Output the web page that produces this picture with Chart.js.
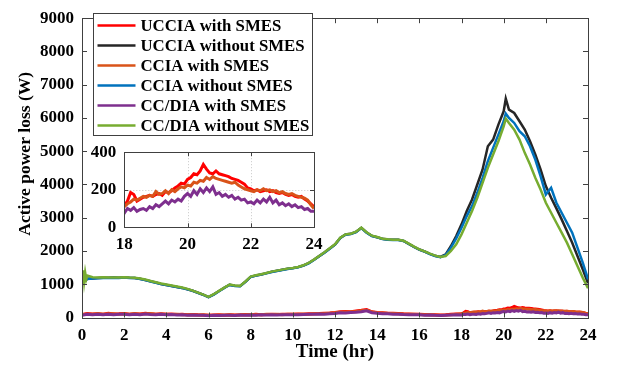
<!DOCTYPE html>
<html><head><meta charset="utf-8">
<script src="https://cdn.jsdelivr.net/npm/chart.js@4.4.0/dist/chart.umd.min.js"></script>
<style>
html,body{margin:0;padding:0;background:#fff;}
#wrap{position:relative;width:617px;height:365px;overflow:hidden;}
#main{position:absolute;left:0;top:0;}
#inset{position:absolute;left:88px;top:134px;}
</style></head><body>
<div id="wrap">
<canvas id="main" width="617" height="365"></canvas>
<canvas id="inset" width="244" height="122"></canvas>
</div>
<script>
// ---- data ----
const seriesLabels = ['UCCIA with SMES','UCCIA without SMES','CCIA with SMES','CCIA without SMES','CC/DIA with SMES','CC/DIA without SMES'];
const seriesColors = ['#FF0000','#262626','#D95319','#0072BD','#7E2F8E','#77AC30'];
const xTitle = 'Time (hr)';
const yTitle = 'Active power loss (W)';

const hoursBig = [0,0.05,0.1,0.15,0.2,0.25,0.5,0.75,1,1.25,1.5,1.75,2,2.25,2.5,2.75,3,3.25,3.5,3.75,4,4.25,4.5,4.75,5,5.25,5.5,5.75,6,6.25,6.5,6.75,7,7.25,7.5,7.75,8,8.25,8.5,8.75,9,9.25,9.5,9.75,10,10.25,10.5,10.75,11,11.25,11.5,11.75,12,12.25,12.5,12.75,13,13.25,13.5,13.75,14,14.25,14.5,14.75,15,15.25,15.5,15.75,16,16.25,16.5,16.75,17,17.25,17.5,17.75,18,18.25,18.5,18.75,19,19.25,19.5,19.75,20,20.1,20.25,20.5,20.75,21,21.25,21.5,21.75,22,22.25,22.5,22.75,23,23.25,23.5,23.75,24];

const ucciaWithout = [1050,1150,1110,1180,1130,1165,1175,1185,1195,1195,1200,1195,1205,1195,1190,1165,1130,1090,1050,1010,980,950,920,890,850,805,745,685,615,695,795,895,985,955,945,1075,1225,1265,1295,1335,1375,1405,1435,1465,1485,1515,1565,1635,1735,1845,1955,2075,2195,2395,2495,2515,2575,2695,2555,2455,2415,2365,2345,2335,2335,2305,2215,2125,2045,1985,1915,1855,1820,1900,2150,2450,2800,3200,3550,4000,4450,5150,5350,5800,6200,6580,6250,6150,5900,5650,5300,4900,4450,3950,3600,3280,2950,2600,2250,1850,1450,1030];

const cciaWithout = [1050,1150,1110,1180,1130,1160,1170,1180,1190,1190,1195,1190,1200,1190,1185,1160,1125,1085,1045,1005,975,945,915,885,845,800,740,680,610,690,790,890,980,950,940,1070,1220,1260,1290,1330,1370,1400,1430,1460,1480,1510,1560,1630,1730,1840,1950,2070,2190,2390,2490,2510,2570,2690,2550,2450,2410,2360,2340,2330,2330,2300,2210,2120,2040,1980,1910,1850,1810,1880,2100,2380,2700,3050,3350,3750,4200,4700,5100,5500,5900,6130,6000,5850,5600,5450,5150,4750,4250,3700,3900,3450,3150,2850,2550,2100,1650,1150];

const ccdiaWithout = [1000,1420,1080,1350,1150,1260,1210,1200,1210,1200,1205,1200,1210,1200,1195,1175,1140,1100,1060,1020,990,960,930,900,860,810,750,690,620,700,800,900,990,960,950,1080,1230,1270,1300,1340,1380,1410,1440,1470,1490,1520,1570,1640,1740,1850,1960,2080,2200,2400,2500,2520,2580,2700,2560,2460,2420,2370,2350,2340,2340,2310,2220,2130,2050,1990,1920,1860,1820,1850,2000,2200,2500,2850,3200,3600,4050,4500,4900,5300,5750,5980,5850,5650,5350,4950,4600,4200,3850,3450,3150,2850,2550,2250,1900,1550,1200,880];

const hoursSmall = [0,0.25,0.5,0.75,1,1.25,1.5,1.75,2,2.25,2.5,2.75,3,3.25,3.5,3.75,4,4.25,4.5,4.75,5,5.25,5.5,5.75,6,6.25,6.5,6.75,7,7.25,7.5,7.75,8,8.25,8.5,8.75,9,9.25,9.5,9.75,10,10.25,10.5,10.75,11,11.25,11.5,11.75,12,12.25,12.5,12.75,13,13.25,13.5,13.75,14,14.25,14.5,14.75,15,15.25,15.5,15.75,16,16.25,16.5,16.75,17,17.25,17.5,17.75,
18,18.1,18.2,18.3,18.4,18.5,18.6,18.7,18.8,18.9,19,19.1,19.2,19.3,19.4,19.5,19.6,19.7,19.8,19.9,20,20.1,20.2,20.3,20.4,20.5,20.6,20.7,20.8,20.9,21,21.1,21.2,21.3,21.4,21.5,21.6,21.7,21.8,21.9,22,22.1,22.2,22.3,22.4,22.5,22.6,22.7,22.8,22.9,23,23.1,23.2,23.3,23.4,23.5,23.6,23.7,23.8,23.9,24];

const ucciaWith = [90,120,105,115,100,125,105,110,120,100,115,105,125,110,100,115,95,105,90,100,85,90,80,75,70,75,80,70,85,75,80,90,85,95,85,90,95,90,100,95,100,105,100,110,115,120,130,135,150,170,180,175,195,215,240,170,150,140,130,125,120,110,105,100,95,90,85,80,75,80,95,105,
115,140,185,175,140,150,160,165,170,165,175,180,170,190,185,195,210,220,235,230,255,265,285,280,300,335,310,290,285,300,285,280,275,270,260,255,250,240,230,210,205,195,200,190,195,200,190,195,185,180,185,175,170,175,165,160,165,150,140,125,110];

const cciaWith = [85,105,100,120,95,110,115,100,110,95,120,100,115,120,95,105,100,90,95,85,80,85,75,80,65,70,75,75,80,70,85,80,90,85,80,95,90,95,85,100,95,100,105,100,110,115,120,130,140,160,165,170,180,200,220,165,140,135,125,120,115,105,100,95,90,85,80,75,70,75,85,100,
110,125,135,150,145,155,165,160,170,165,190,175,180,195,180,200,190,205,215,210,225,220,240,235,250,245,265,255,270,260,255,250,245,240,235,240,225,215,205,200,195,190,200,195,205,195,200,190,195,185,190,180,175,180,170,165,160,155,145,120,100];

const ccdiaWith = [70,95,80,100,85,100,80,95,100,80,95,85,105,90,80,95,80,90,75,85,70,75,65,70,55,65,60,70,65,60,75,70,75,70,80,75,80,75,85,80,85,80,90,95,95,105,100,115,120,140,135,150,155,175,200,145,125,115,110,100,100,90,85,80,80,70,75,65,60,70,75,80,
75,100,90,105,85,95,100,90,110,100,120,110,125,140,125,145,135,150,140,165,180,165,195,175,205,185,210,190,215,175,185,165,175,160,170,150,160,145,150,130,135,125,145,130,150,135,160,130,145,120,130,115,125,110,120,105,110,95,100,85,85];

const xTicksMainStep = 2, yTicksMainStep = 1000;

// ---- helpers ----
const pts = (xs, ys) => xs.map((x, i) => ({x: x, y: ys[i]}));
const serif = '"Liberation Serif", "Times New Roman", serif';
const tickFont = {family: serif, weight: 'bold', size: 17};
const plain = v => String(v);

const frame = {
  id: 'frame',
  beforeDatasetsDraw(chart, args, o) {
    const {ctx, chartArea: a, scales: {x, y}} = chart;
    ctx.save();
    ctx.fillStyle = '#fff';
    ctx.fillRect(a.left, a.top, a.right - a.left, a.bottom - a.top);
    if (o.grid) {
      ctx.strokeStyle = '#c8c8c8'; ctx.lineWidth = 1; ctx.setLineDash([1, 2]);
      ctx.beginPath();
      x.ticks.forEach(t => { const p = Math.round(x.getPixelForValue(t.value)) + 0.5; ctx.moveTo(p, a.top); ctx.lineTo(p, a.bottom); });
      y.ticks.forEach(t => { const p = Math.round(y.getPixelForValue(t.value)) + 0.5; ctx.moveTo(a.left, p); ctx.lineTo(a.right, p); });
      ctx.stroke();
    }
    ctx.restore();
  },
  afterDatasetsDraw(chart, args, o) {
    const {ctx, chartArea: a, scales: {x, y}} = chart;
    const L = o.len;
    ctx.save();
    ctx.strokeStyle = '#404040'; ctx.lineWidth = 1; ctx.setLineDash([]);
    ctx.beginPath();
    x.ticks.forEach(t => { const p = Math.round(x.getPixelForValue(t.value)) + 0.5; ctx.moveTo(p, a.bottom); ctx.lineTo(p, a.bottom - L); ctx.moveTo(p, a.top); ctx.lineTo(p, a.top + L); });
    y.ticks.forEach(t => { const p = Math.round(y.getPixelForValue(t.value)) + 0.5; ctx.moveTo(a.left, p); ctx.lineTo(a.left + L, p); ctx.moveTo(a.right, p); ctx.lineTo(a.right - L, p); });
    ctx.stroke();
    const l = Math.round(a.left) + 0.5, t = Math.round(a.top) + 0.5, r = Math.round(a.right) + 0.5, b = Math.round(a.bottom) + 0.5;
    ctx.strokeRect(l, t, r - l, b - t);
    ctx.restore();
  }
};

// y-axis title drawn slightly above the axis centre, as in the reference
const yTitlePlugin = {
  id: 'yTitlePlugin',
  afterDraw(chart, args, o) {
    const {ctx, chartArea: a} = chart;
    ctx.save();
    ctx.font = o.font; ctx.fillStyle = '#000';
    ctx.textAlign = 'center'; ctx.textBaseline = 'middle';
    ctx.translate(o.x, (a.top + a.bottom) / 2 + o.dy);
    ctx.rotate(-Math.PI / 2);
    ctx.fillText(o.text, 0, 0);
    ctx.restore();
  }
};

const legendBox = {
  id: 'legendBox',
  afterDraw(chart, args, o) {
    const {ctx, chartArea: a} = chart;
    const x0 = Math.round(a.left + o.dx) + 0.5, y0 = Math.round(a.top + o.dy) + 0.5;
    ctx.save();
    ctx.font = o.font;
    const ds = chart.data.datasets;
    let w = 0; ds.forEach(d => { w = Math.max(w, ctx.measureText(d.label).width); });
    const W = Math.round(o.padL + o.lineLen + o.gap + w + o.padR);
    const H = Math.round(ds.length * o.rowH + o.padT + o.padB);
    ctx.fillStyle = '#fff'; ctx.fillRect(x0, y0, W, H);
    ctx.strokeStyle = '#404040'; ctx.lineWidth = 1; ctx.strokeRect(x0, y0, W, H);
    ds.forEach((d, i) => {
      const cy = y0 + o.padT + o.rowH * (i + 0.5);
      ctx.strokeStyle = d.borderColor; ctx.lineWidth = 2.5;
      ctx.beginPath(); ctx.moveTo(x0 + o.padL, cy); ctx.lineTo(x0 + o.padL + o.lineLen, cy); ctx.stroke();
      ctx.fillStyle = '#000'; ctx.textBaseline = 'middle'; ctx.textAlign = 'left';
      ctx.fillText(d.label, x0 + o.padL + o.lineLen + o.gap, cy + 1);
    });
    ctx.restore();
  }
};

const bigData = [null, ucciaWithout, null, cciaWithout, null, ccdiaWithout];
const smallData = [ucciaWith, null, cciaWith, null, ccdiaWith, null];

const mainSets = seriesLabels.map((lab, i) => ({
  label: lab,
  data: bigData[i] ? pts(hoursBig, bigData[i]) : pts(hoursSmall, smallData[i]),
  borderColor: seriesColors[i],
  backgroundColor: seriesColors[i],
  borderWidth: bigData[i] ? 2.5 : 3,
  pointRadius: 0, tension: 0, fill: false,
  order: 5 - i
}));

new Chart(document.getElementById('main'), {
  type: 'line',
  data: {datasets: mainSets},
  options: {
    responsive: false, animation: false, devicePixelRatio: 1,
    layout: {padding: {top: 16.5, right: 29, left: 0, bottom: 0}},
    plugins: {
      legend: {display: false}, tooltip: {enabled: false},
      frame: {len: 5, grid: false},
      yTitlePlugin: {text: yTitle, x: 25, dy: -14, font: 'bold 17.5px ' + serif},
      legendBox: {dx: 11, dy: -5, font: 'bold 16.8px ' + serif, padL: 4, lineLen: 38, gap: 5, padR: 3, rowH: 20, padT: 2, padB: 0}
    },
    scales: {
      x: {
        type: 'linear', min: 0, max: 24,
        ticks: {stepSize: xTicksMainStep, color: '#000', font: tickFont, padding: 8, maxRotation: 0, callback: plain},
        grid: {display: false, drawTicks: false}, border: {display: false},
        title: {display: true, text: xTitle, color: '#000', font: {family: serif, weight: 'bold', size: 19}, padding: {top: 0, bottom: 2}},
        afterFit(s) { s.height = 47.5; }
      },
      y: {
        type: 'linear', min: 0, max: 9000,
        ticks: {stepSize: yTicksMainStep, color: '#000', font: tickFont, padding: 8, callback: plain},
        grid: {display: false, drawTicks: false}, border: {display: false},
        title: {display: false},
        afterFit(s) { s.width = 82; }
      }
    }
  },
  plugins: [frame, yTitlePlugin, legendBox]
});

const insetSets = [0, 2, 4].map(i => ({
  label: seriesLabels[i],
  data: pts(hoursSmall, smallData[i]),
  borderColor: seriesColors[i],
  borderWidth: 3,
  pointRadius: 0, tension: 0, fill: false,
  order: 5 - i
}));

new Chart(document.getElementById('inset'), {
  type: 'line',
  data: {datasets: insetSets},
  options: {
    responsive: false, animation: false, devicePixelRatio: 1,
    layout: {padding: {top: 9.3, right: 18, left: 0, bottom: 0}},
    plugins: {legend: {display: false}, tooltip: {enabled: false}, frame: {len: 4, grid: true}},
    scales: {
      x: {
        type: 'linear', min: 18, max: 24,
        ticks: {stepSize: 2, color: '#000', font: tickFont, padding: 7.5, maxRotation: 0, callback: plain},
        grid: {display: false, drawTicks: false}, border: {display: false},
        afterFit(s) { s.height = 28.7; }
      },
      y: {
        type: 'linear', min: 0, max: 400,
        ticks: {stepSize: 200, color: '#000', font: tickFont, padding: 8, callback: plain},
        grid: {display: false, drawTicks: false}, border: {display: false},
        afterFit(s) { s.width = 36.3; }
      }
    }
  },
  plugins: [frame]
});
</script>
</body></html>
